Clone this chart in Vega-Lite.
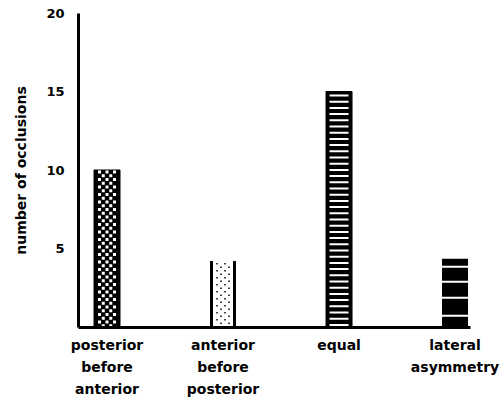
{
  "$schema": "https://vega.github.io/schema/vega-lite/v6.json",
  "autosize": "none",
  "width": 392,
  "height": 314,
  "padding": {"left": 78, "top": 13, "right": 30, "bottom": 75},
  "background": "white",
  "config": {
    "view": {"stroke": null},
    "font": "DejaVu Sans"
  },
  "data": {
    "values": [
      {"cat": "posterior before anterior", "n": 10},
      {"cat": "anterior before posterior", "n": 4.2},
      {"cat": "equal", "n": 15},
      {"cat": "lateral asymmetry", "n": 4.35}
    ]
  },
  "encoding": {
    "x": {
      "field": "cat",
      "type": "nominal",
      "sort": null,
      "scale": {
        "domain": ["posterior before anterior", "anterior before posterior", "equal", "lateral asymmetry"],
        "paddingInner": 0.776,
        "paddingOuter": 0.0776,
        "align": 0.89
      },
      "axis": {
        "title": null,
        "labelAngle": 0,
        "labelExpr": "split(datum.label, ' ')",
        "labelFont": "DejaVu Sans",
        "labelFontSize": 14,
        "labelFontWeight": "bold",
        "labelColor": "black",
        "labelLineHeight": 22,
        "labelPadding": 11,
        "labelBaseline": "top",
        "ticks": false,
        "domainColor": "black",
        "domainWidth": 3,
        "zindex": 1
      }
    },
    "y": {
      "field": "n",
      "type": "quantitative",
      "scale": {"domain": [0, 20], "nice": false},
      "axis": {
        "title": "number of occlusions",
        "titleFont": "DejaVu Sans",
        "titleFontSize": 14,
        "titleFontWeight": "bold",
        "titleColor": "black",
        "titlePadding": 17,
        "values": [5, 10, 15, 20],
        "labelFont": "DejaVu Sans",
        "labelFontSize": 13,
        "labelFontWeight": "bold",
        "labelColor": "black",
        "labelPadding": 14,
        "ticks": false,
        "grid": false,
        "domainColor": "black",
        "domainWidth": 3,
        "zindex": 1
      }
    }
  },
  "layer": [
    {
      "transform": [{"filter": "datum.cat === 'posterior before anterior'"}],
      "mark": {"type": "bar", "fill": "black", "stroke": "black", "strokeWidth": 1}
    },
    {
      "transform": [{"filter": "datum.cat === 'posterior before anterior'"}],
      "mark": {"type": "rule", "color": "white", "strokeWidth": 3, "strokeCap": "butt", "strokeDash": [3, 4.5], "strokeDashOffset": 7, "xOffset": -7.5},
      "encoding": {"y2": {"datum": 0}}
    },
    {
      "transform": [{"filter": "datum.cat === 'posterior before anterior'"}],
      "mark": {"type": "rule", "color": "white", "strokeWidth": 3, "strokeCap": "butt", "strokeDash": [3, 4.5], "strokeDashOffset": 3.25, "xOffset": -3.75},
      "encoding": {"y2": {"datum": 0}}
    },
    {
      "transform": [{"filter": "datum.cat === 'posterior before anterior'"}],
      "mark": {"type": "rule", "color": "white", "strokeWidth": 3, "strokeCap": "butt", "strokeDash": [3, 4.5], "strokeDashOffset": 7, "xOffset": 0},
      "encoding": {"y2": {"datum": 0}}
    },
    {
      "transform": [{"filter": "datum.cat === 'posterior before anterior'"}],
      "mark": {"type": "rule", "color": "white", "strokeWidth": 3, "strokeCap": "butt", "strokeDash": [3, 4.5], "strokeDashOffset": 3.25, "xOffset": 3.75},
      "encoding": {"y2": {"datum": 0}}
    },
    {
      "transform": [{"filter": "datum.cat === 'posterior before anterior'"}],
      "mark": {"type": "rule", "color": "white", "strokeWidth": 3, "strokeCap": "butt", "strokeDash": [3, 4.5], "strokeDashOffset": 7, "xOffset": 7.5},
      "encoding": {"y2": {"datum": 0}}
    },
    {
      "transform": [{"filter": "datum.cat === 'anterior before posterior'"}],
      "mark": {"type": "bar", "fill": "white", "strokeWidth": 0}
    },
    {
      "transform": [{"filter": "datum.cat === 'anterior before posterior'"}],
      "mark": {"type": "rule", "color": "black", "strokeWidth": 3, "strokeCap": "butt", "xOffset": -11.5},
      "encoding": {"y2": {"datum": 0}}
    },
    {
      "transform": [{"filter": "datum.cat === 'anterior before posterior'"}],
      "mark": {"type": "rule", "color": "black", "strokeWidth": 3, "strokeCap": "butt", "xOffset": 11.5},
      "encoding": {"y2": {"datum": 0}}
    },
    {
      "transform": [{"filter": "datum.cat === 'anterior before posterior'"}],
      "mark": {"type": "rule", "color": "black", "strokeWidth": 1.5, "strokeCap": "butt", "strokeDash": [1.5, 5.5], "strokeDashOffset": 5, "xOffset": -6},
      "encoding": {"y2": {"datum": 0}}
    },
    {
      "transform": [{"filter": "datum.cat === 'anterior before posterior'"}],
      "mark": {"type": "rule", "color": "black", "strokeWidth": 1.5, "strokeCap": "butt", "strokeDash": [1.5, 5.5], "strokeDashOffset": 1.5, "xOffset": -2},
      "encoding": {"y2": {"datum": 0}}
    },
    {
      "transform": [{"filter": "datum.cat === 'anterior before posterior'"}],
      "mark": {"type": "rule", "color": "black", "strokeWidth": 1.5, "strokeCap": "butt", "strokeDash": [1.5, 5.5], "strokeDashOffset": 5, "xOffset": 2},
      "encoding": {"y2": {"datum": 0}}
    },
    {
      "transform": [{"filter": "datum.cat === 'anterior before posterior'"}],
      "mark": {"type": "rule", "color": "black", "strokeWidth": 1.5, "strokeCap": "butt", "strokeDash": [1.5, 5.5], "strokeDashOffset": 1.5, "xOffset": 6},
      "encoding": {"y2": {"datum": 0}}
    },
    {
      "transform": [{"filter": "datum.cat === 'equal'"}],
      "mark": {"type": "bar", "fill": "black", "stroke": "black", "strokeWidth": 1}
    },
    {
      "transform": [{"filter": "datum.cat === 'equal'"}],
      "mark": {"type": "rule", "color": "white", "strokeWidth": 19, "strokeCap": "butt", "strokeDash": [2, 4.2], "strokeDashOffset": 3.2},
      "encoding": {"y2": {"datum": 0}}
    },
    {
      "transform": [{"filter": "datum.cat === 'lateral asymmetry'"}],
      "mark": {"type": "bar", "fill": "black", "strokeWidth": 0}
    },
    {
      "transform": [{"filter": "datum.cat === 'lateral asymmetry'"}],
      "mark": {"type": "rule", "color": "white", "strokeWidth": 27, "strokeCap": "butt", "strokeDash": [0, 7, 2, 13, 2, 14, 2, 16, 2, 100]},
      "encoding": {"y2": {"datum": 0}}
    }
  ]
}
